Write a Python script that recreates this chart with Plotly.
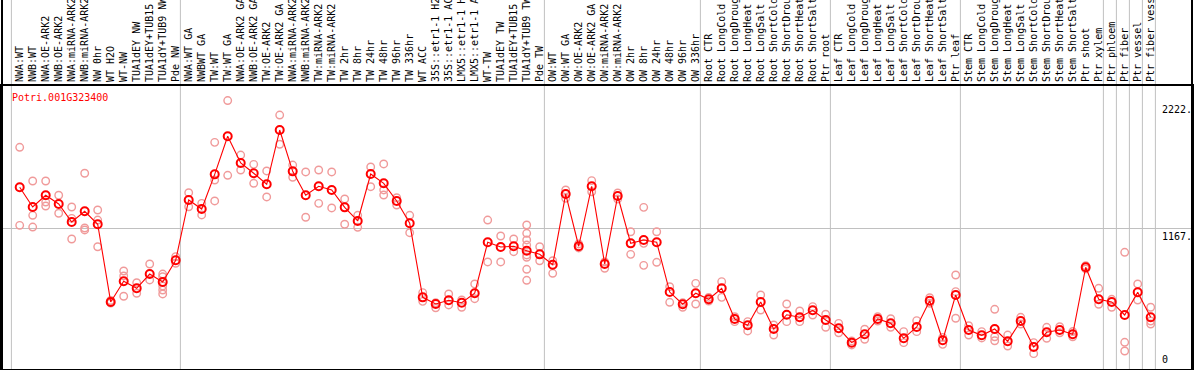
import plotly.graph_objects as go

gene_id = "Potri.001G323400"

categories = [
    "NWA:WT", "NWB:WT", "NWA:OE-ARK2", "NWB:OE-ARK2", "NWA:miRNA-ARK2", "NWB:miRNA-ARK2",
    "NW 0hr", "WT H2O", "WT-NW", "TUA1dEY NW", "TUA1dEY+TUB15 NW", "TUA1dY+TUB9 NW", "Pde NW",
    "NWA:WT GA", "NWBWT GA", "TW:WT", "TW:WT GA", "NWA:OE-ARK2 GA", "NWB:OE-ARK2 GA",
    "TW:OE-ARK2", "TW:OE-ARK2 GA", "NWA:miRNA-ARK2 GA", "NWB:miRNA-ARK2 GA", "TW:miRNA-ARK2",
    "TW:miRNA-ARK2 GA", "TW 2hr", "TW 8hr", "TW 24hr", "TW 48hr", "TW 96hr", "TW 336hr",
    "WT ACC", "35S::etr1-1 H2O", "35S::etr1-1 ACC", "LMX5::etr1-1 H2O", "LMX5::etr1-1 ACC",
    "WT-TW", "TUA1dEY TW", "TUA1dEY+TUB15 TW", "TUA1dY+TUB9 TW", "Pde TW",
    "OW:WT", "OW:WT GA", "OW:OE-ARK2", "OW:OE-ARK2 GA", "OW:miRNA-ARK2", "OW:miRNA-ARK2 GA",
    "OW 2hr", "OW 8hr", "OW 24hr", "OW 48hr", "OW 96hr", "OW 336hr",
    "Root CTR", "Root LongCold", "Root LongDrought", "Root LongHeat", "Root LongSalt",
    "Root ShortCold", "Root ShortDrought", "Root ShortHeat", "Root ShortSalt", "Ptr root",
    "Leaf CTR", "Leaf LongCold", "Leaf LongDrought", "Leaf LongHeat", "Leaf LongSalt",
    "Leaf ShortCold", "Leaf ShortDrought", "Leaf ShortHeat", "Leaf ShortSalt", "Ptr leaf",
    "Stem CTR", "Stem LongCold", "Stem LongDrought", "Stem LongHeat", "Stem LongSalt",
    "Stem ShortCold", "Stem ShortDrought", "Stem ShortHeat", "Stem ShortSalt", "Ptr shoot",
    "Ptr xylem", "Ptr phloem", "Ptr fiber", "Ptr vessel", "Ptr fiber vessel",
]

mean_values = [
    1504, 1341, 1438, 1366, 1217, 1305, 1198, 555, 726, 668,
    786, 720, 900, 1399, 1324, 1611, 1926, 1705, 1620, 1529,
    1978, 1636, 1438, 1512, 1482, 1338, 1225, 1614, 1537, 1391,
    1206, 593, 538, 569, 549, 627, 1049, 1010, 1016, 979,
    949, 863, 1448, 1016, 1512, 869, 1432, 1040, 1068, 1049,
    637, 536, 627, 577, 668, 414, 362, 555, 331, 449,
    428, 486, 406, 337, 218, 287, 414, 378, 254, 348,
    565, 238, 613, 323, 279, 331, 229, 397, 182, 304,
    323, 287, 842, 577, 555, 447, 635, 428,
]

replicate_values = [
    [1835, 1189], [1556, 1272, 1175], [1556, 1382, 1349], [1438, 1289], [1341, 1247, 1076],
    [1620, 1167, 1151], [1316, 1233, 1012], [567, 546], [811, 770, 602], [714, 627],
    [869, 737], [786, 764, 687, 654, 621], [930, 875], [1459, 1343], [1371, 1275],
    [1876, 1564, 1391], [2222, 1603], [1771, 1647], [1694, 1537], [1639, 1424],
    [2102, 1860], [1688, 1587], [1631, 1256], [1647, 1371], [1631, 1333],
    [1407, 1198], [1272, 1173], [1672, 1509], [1697, 1482, 1440], [1418, 1357],
    [1272, 1128], [632, 560], [507, 549], [621, 530], [511, 571],
    [704, 582], [1233, 886], [1101, 886], [1076, 971], [1192, 1123, 1068, 1026, 944, 925, 825, 734],
    [1012, 896], [896, 792], [1482, 1413], [1035, 1002], [1559, 1467],
    [886, 834], [1457, 1407], [1136, 949], [1338, 1040, 858], [1136, 883],
    [681, 552], [549, 511], [709, 538], [593, 563], [723, 593],
    [433, 392], [392, 315], [613, 488], [364, 281], [538, 392],
    [480, 392], [516, 447], [453, 345], [378, 300], [199, 232],
    [329, 246], [433, 397], [416, 345], [309, 218], [400, 309],
    [590, 544], [204, 262], [778, 640, 420], [358, 281], [309, 257],
    [494, 267, 234], [281, 190], [428, 372], [218, 127], [345, 254],
    [350, 300], [267, 310], [855, 828], [668, 536], [577, 511],
    [966, 221, 149], [704, 571], [511, 397, 372],
]

y_label_values = [2222, 1167, 0]
y_label_texts = ["2222.", "1167.", "0"]
gridline_values = [1167]
group_last_index = [-1, 12, 40, 52, 62, 72, 83, 84, 85, 86, 87]

MONO = "DejaVu Sans Mono"

rep_x, rep_y = [], []
for i, reps in enumerate(replicate_values):
    for v in reps:
        rep_x.append(i)
        rep_y.append(v)

x_idx = list(range(len(categories)))

fig = go.Figure()
fig.add_trace(go.Scatter(
    x=rep_x, y=rep_y, mode="markers",
    marker=dict(symbol="circle-open", size=7.5, color="#f09a9a", line=dict(width=1.4)),
    hoverinfo="skip", cliponaxis=False,
))
fig.add_trace(go.Scatter(
    x=x_idx, y=mean_values, mode="lines+markers",
    line=dict(color="#ff0000", width=1.1),
    marker=dict(symbol="circle-open", size=8, color="#ff0000", line=dict(width=2)),
    text=categories, hovertemplate="%{text}: %{y}<extra></extra>",
))

shapes = []
for g in group_last_index:
    shapes.append(dict(type="line", xref="x", yref="paper", x0=g + 0.36, x1=g + 0.36,
                       y0=0, y1=1.4, line=dict(color="#c0c0c0", width=1), layer="below"))
shapes.append(dict(type="line", xref="paper", yref="paper", x0=0, x1=0, y0=0, y1=1.4,
                   line=dict(color="black", width=2)))
shapes.append(dict(type="line", xref="paper", yref="paper", x0=1, x1=1, y0=0, y1=1.4,
                   line=dict(color="black", width=2)))

annotations = [dict(text=gene_id, xref="paper", yref="paper", x=0.0067, y=0.961,
                    xanchor="left", yanchor="middle", showarrow=False,
                    font=dict(family=MONO, size=10, color="#ff0000"))]
for v, t in zip(y_label_values, y_label_texts):
    annotations.append(dict(text=t, xref="paper", yref="y", x=0.9756, y=v,
                            xanchor="left", yanchor="bottom" if v == 0 else "top",
                            xshift=-3, yshift=2 if v == 0 else -1, showarrow=False,
                            font=dict(family=MONO, size=10, color="black")))

fig.update_layout(
    width=1194, height=370,
    margin=dict(l=2, r=2, t=86, b=1, pad=0),
    paper_bgcolor="white", plot_bgcolor="white",
    showlegend=False,
    shapes=shapes, annotations=annotations,
    font=dict(family=MONO, size=10, color="black"),
)
fig.update_xaxes(
    range=[-1.3615, 90.177], side="top", tickmode="array", tickvals=x_idx, ticktext=categories,
    tickangle=-90, tickfont=dict(family=MONO, size=10, color="black"),
    showgrid=False, zeroline=False, ticks="", automargin=False,
    showline=True, linecolor="black", linewidth=2, mirror=True,
)
fig.update_yaxes(
    range=[0, 2342.3], tickmode="array", tickvals=gridline_values, showticklabels=False,
    showgrid=True, gridcolor="#c0c0c0", gridwidth=1, zeroline=False, ticks="",
    automargin=False, showline=True, linecolor="black", linewidth=2, mirror=True,
)

fig.write_html("out.html", config={"displayModeBar": False},
               post_script="document.body.style.margin='0';document.body.style.overflow='hidden';")
